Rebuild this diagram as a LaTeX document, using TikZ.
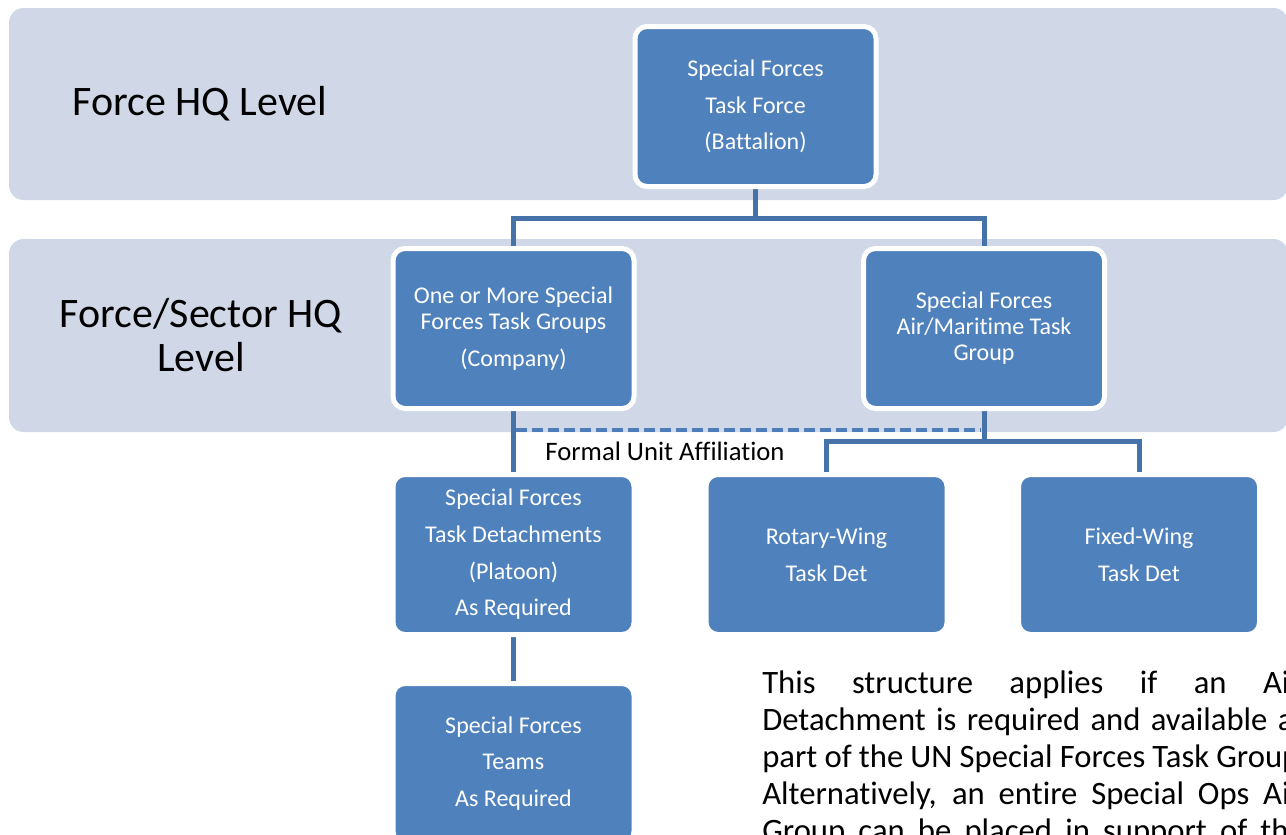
\documentclass[tikz,border=0pt]{standalone}
\usepackage{fontspec}
\setmainfont{Carlito}[Ligatures=NoCommon]
\usetikzlibrary{backgrounds}
\definecolor{bandfill}{HTML}{D0D8E8}
\definecolor{boxblue}{HTML}{4F81BD}
\definecolor{linkblue}{HTML}{4672AA}
\definecolor{dashblue}{HTML}{4F7DBA}

\begin{document}
\begin{tikzpicture}[x=0.75pt,y=-0.75pt,
  unit/.style={rectangle, rounded corners=9pt, fill=boxblue, draw=white,
    line width=3.75pt, minimum width=180.75pt, minimum height=120pt,
    inner sep=0pt, align=center, text=white,
    font=\fontsize{18pt}{19.5pt}\selectfont},
  level/.style={align=center, font=\fontsize{31.5pt}{33pt}\selectfont},
  band/.style={fill=bandfill, rounded corners=11pt},
  link/.style={draw=linkblue, line width=3.75pt},
  affil/.style={draw=dashblue, line width=3pt, dash pattern=on 8.25pt off 3.75pt},
  note/.style={anchor=base west, inner sep=0pt,
    font=\fontsize{24.5pt}{28pt}\selectfont}
]
\useasboundingbox (0,0) rectangle (1286,835);

% level captions
\node[level] (lvlforce) at (200,104) {Force HQ Level};
\node[level] (lvlsector) at (201,335) {Force/Sector HQ\\Level};

% units
\node[unit] (sftf)  at (755.5,106.5) {Special Forces\\[8pt]Task Force\\[8pt](Battalion)};
\node[unit] (sftg)  at (513.5,328.5) {One or More Special\\Forces Task Groups\\[8pt](Company)};
\node[unit] (airtg) at (984,328.5)   {Special Forces\\Air/Maritime Task\\Group};
\node[unit] (sftd)  at (513.5,554.5) {Special Forces\\[8pt]Task Detachments\\[8pt](Platoon)\\[8pt]As Required};
\node[unit] (rw)    at (826.5,554.5) {Rotary-Wing\\[8pt]Task Det};
\node[unit] (fw)    at (1139,554.5)  {Fixed-Wing\\[8pt]Task Det};
\node[unit] (teams) at (513.5,763.5) {Special Forces\\[8pt]Teams\\[8pt]As Required};

\node[font=\fontsize{20pt}{22pt}\selectfont] (affillabel) at (665,451) {Formal Unit Affiliation};

% explanatory note, justified lines
\node[note] (note1) at (762,693) {\makebox[404pt][s]{This structure applies if an Air}};
\node[note] (note2) at (762,730) {\makebox[408pt][s]{Detachment is required and available as}};
\node[note] (note3) at (762,767) {\makebox[409pt][s]{part of the UN Special Forces Task Group.}};
\node[note] (note4) at (762,804) {\makebox[404pt][s]{Alternatively, an entire Special Ops Air}};
\node[note] (note5) at (762,841) {\makebox[407pt][s]{Group can be placed in support of the}};

\begin{pgfonlayer}{background}
  % level bands
  \fill[band] (9,8) rectangle (1288,200);
  \fill[band] (9,239) rectangle (1288,432);
  % reporting lines
  \coordinate (j1) at (755.5,218);
  \draw[link] (sftf.south) -- (j1) -| (sftg.north);
  \draw[link] (j1) -| (airtg.north);
  \coordinate (j2) at (984,441);
  \draw[link] (airtg.south) -- (j2) -| (rw.north);
  \draw[link] (j2) -| (fw.north);
  \draw[link] (sftg.south) -- (sftd.north);
  \draw[link] (sftd.south) -- (teams.north);
  % formal affiliation
  \coordinate (a1) at (516,430);
  \coordinate (a2) at (981,430);
  \draw[affil] (a1) -- (a2);
\end{pgfonlayer}
\end{tikzpicture}
\end{document}
